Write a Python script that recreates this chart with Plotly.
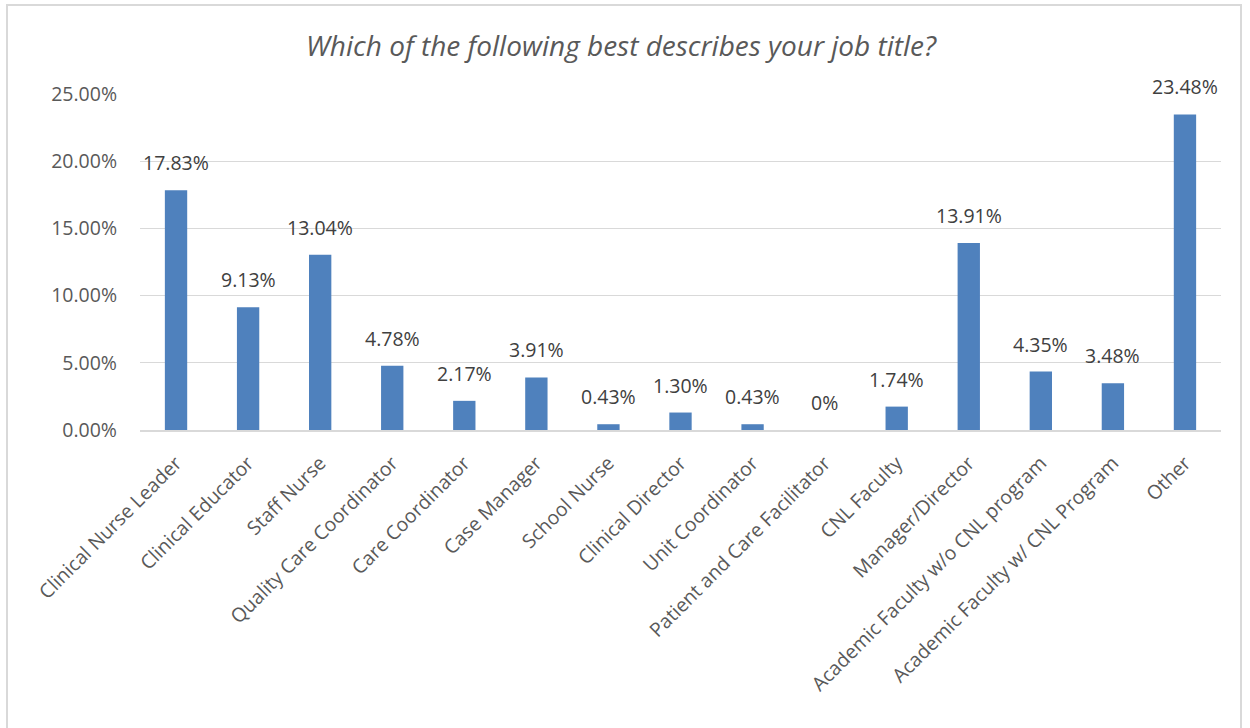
import plotly.graph_objects as go

# Survey results: share of respondents by job title
categories = [
    "Clinical Nurse Leader", "Clinical Educator", "Staff Nurse",
    "Quality Care Coordinator", "Care Coordinator", "Case Manager",
    "School Nurse", "Clinical Director", "Unit Coordinator",
    "Patient and Care Facilitator", "CNL Faculty", "Manager/Director",
    "Academic Faculty w/o CNL program", "Academic Faculty w/ CNL Program",
    "Other",
]
percent = [17.83, 9.13, 13.04, 4.78, 2.17, 3.91, 0.43, 1.30, 0.43, 0.0,
           1.74, 13.91, 4.35, 3.48, 23.48]
y_ticks = [0, 5, 10, 15, 20, 25]
y_tick_labels = ["0.00%", "5.00%", "10.00%", "15.00%", "20.00%", "25.00%"]
title = "Which of the following best describes your job title?"

labels = [f"{v:.2f}%" if v else "0%" for v in percent]

FONT = "'Open Sans', sans-serif"
TXT = 19.5
W, H = 1250, 728
L, R, T, B = 140, 1221, 94, 430  # plot-area pixel box

fig = go.Figure(go.Bar(
    x=categories, y=percent,
    marker=dict(color="#4F81BD", line=dict(width=0)),
    width=0.31, hoverinfo="x+y",
))

for c, v, t in zip(categories, percent, labels):
    fig.add_annotation(x=c, y=v, text=t, showarrow=False, yanchor="bottom",
                       yshift=12, font=dict(family=FONT, size=TXT, color="#404040"))

def px_x(p):
    return (p - L) / (R - L)

def px_y(p):
    return (B - p) / (B - T)

# chart frame
fig.add_shape(type="rect", xref="paper", yref="paper",
              x0=px_x(7), x1=px_x(1241), y0=px_y(740), y1=px_y(5),
              line=dict(color="#D9D9D9", width=2), fillcolor="rgba(0,0,0,0)",
              layer="below")

fig.add_annotation(xref="paper", yref="paper", x=px_x(621), y=px_y(45),
                   xanchor="center", yanchor="middle",
                   text=f"<i>{title}</i>", showarrow=False,
                   font=dict(family=FONT, size=28, color="#595959"))

fig.update_layout(
    width=W, height=H,
    margin=dict(l=L, r=W - R, t=T, b=H - B, pad=0),
    paper_bgcolor="white", plot_bgcolor="white",
    showlegend=False,
    font=dict(family=FONT, color="#595959"),
)
fig.update_yaxes(range=[0, 25], tickvals=y_ticks, ticktext=y_tick_labels,
                 showgrid=True, gridcolor="#D9D9D9", gridwidth=1,
                 zeroline=False, showline=False, ticks="",
                 ticklabelstandoff=22,
                 tickfont=dict(family=FONT, size=TXT, color="#595959"))
fig.update_xaxes(tickangle=-45, showline=True, linecolor="#D9D9D9",
                 linewidth=2, ticks="", showgrid=False,
                 ticklabelstandoff=12,
                 tickfont=dict(family=FONT, size=TXT, color="#595959"))

fig.write_html("out.html")
